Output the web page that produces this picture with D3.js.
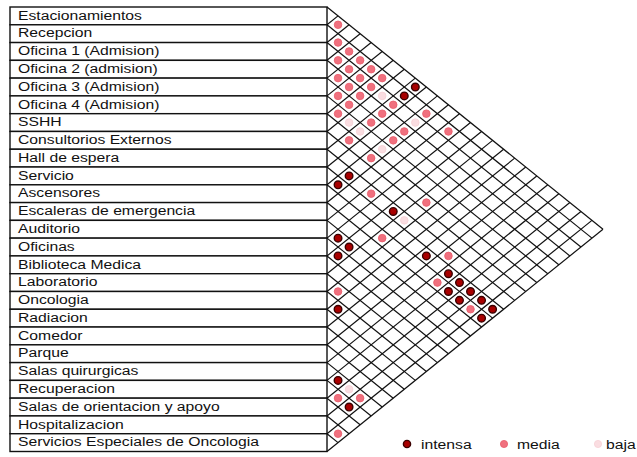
<!DOCTYPE html>
<html><head><meta charset="utf-8">
<script src="https://cdn.jsdelivr.net/npm/d3@7"></script>
<style>body{margin:0;background:#fff}svg{display:block}text{font-family:"Liberation Sans",Arial,sans-serif;fill:#111}</style>
</head><body><svg id="c" width="637" height="457"></svg>
<script>
const spaces = ["Estacionamientos","Recepcion","Oficina 1 (Admision)","Oficina 2 (admision)","Oficina 3 (Admision)","Oficina 4 (Admision)","SSHH","Consultorios Externos","Hall de espera","Servicio","Ascensores","Escaleras de emergencia","Auditorio","Oficinas","Biblioteca Medica","Laboratorio","Oncologia","Radiacion","Comedor","Parque","Salas quirurgicas","Recuperacion","Salas de orientacion y apoyo","Hospitalizacion","Servicios Especiales de Oncologia"];
const intensa = [[0,8],[1,8],[8,10],[9,10],[8,14],[12,13],[12,14],[13,14],[9,18],[9,20],[9,21],[10,21],[9,22],[10,22],[9,23],[9,24],[10,24],[16,17],[20,21],[21,23]];
const media = [[0,1],[1,2],[1,3],[2,3],[1,4],[2,4],[1,5],[3,4],[2,5],[1,6],[3,5],[2,6],[4,5],[3,6],[4,6],[2,8],[5,6],[3,8],[1,10],[4,8],[3,10],[1,12],[6,8],[4,10],[6,10],[8,12],[6,15],[10,15],[8,19],[10,20],[15,16],[10,23],[21,22],[20,23],[23,24]];
const baja = [[2,7],[5,7],[2,10],[5,8],[5,10],[8,15],[20,22]];
const levels = ["intensa","media","baja"];

const svg = d3.select("#c");
const n = spaces.length;
const ys = d3.scaleLinear().domain([0, n]).range([7, 451.5]);
const xs = d3.scaleLinear().domain([0, n]).range([327, 603]);
const color = d3.scaleOrdinal().domain(levels).range(["#a80000","#f0707e","#fadde1"]);
const stroke = d3.scaleOrdinal().domain(levels).range(["#3a0000","#e85a6a","#f6d0d6"]);
const SX = 1.31;

// table rows
const rows = svg.append("g");
rows.selectAll("rect").data(spaces).join("rect")
  .attr("x", 10).attr("y", (d,i)=>ys(i)).attr("width", 327-10).attr("height", (d,i)=>ys(i+1)-ys(i))
  .attr("fill","#fff").attr("stroke","#111").attr("stroke-width",1.4);
rows.selectAll("g.lbl").data(spaces).join("g").attr("class","lbl")
  .attr("transform",(d,i)=>`translate(18,${ys(i)+12.6}) scale(${SX},1)`)
  .append("text").attr("font-size",12).text(d=>d);

// grid
const ks = d3.range(0, n+1);
const grid = svg.append("g").attr("stroke","#111").attr("stroke-width",1.2);
grid.selectAll("line.dn").data(ks).join("line").attr("class","dn")
  .attr("x1", xs(0)).attr("y1", k=>ys(k))
  .attr("x2", k=>xs(n-k)).attr("y2", k=>ys((k+n)/2));
grid.selectAll("line.up").data(ks).join("line").attr("class","up")
  .attr("x1", xs(0)).attr("y1", k=>ys(k))
  .attr("x2", k=>xs(k)).attr("y2", k=>ys(k/2));

// dots
const all = [];
intensa.forEach(p=>all.push({p, lv:"intensa"}));
media.forEach(p=>all.push({p, lv:"media"}));
baja.forEach(p=>all.push({p, lv:"baja"}));
svg.append("g").selectAll("circle").data(all).join("circle")
  .attr("cx", d=>xs(d.p[1]-d.p[0])).attr("cy", d=>ys((d.p[0]+d.p[1]+1)/2))
  .attr("r", 3.8).attr("fill", d=>color(d.lv)).attr("stroke", d=>stroke(d.lv)).attr("stroke-width", d=>d.lv==="intensa"?1.4:0.8);

// legend
const legDot = d3.scaleOrdinal().domain(levels).range([407, 504, 598]);
const legTxt = d3.scaleOrdinal().domain(levels).range([421, 517, 606]);
const leg = svg.append("g").selectAll("g").data(levels).join("g");
leg.append("circle").attr("cx",d=>legDot(d)).attr("cy",444).attr("r",3.6)
  .attr("fill",d=>color(d)).attr("stroke",d=>stroke(d)).attr("stroke-width",d=>d==="intensa"?1.4:0.8);
leg.append("g").attr("transform",d=>`translate(${legTxt(d)},448.5) scale(${SX},1)`).append("text").attr("font-size",12).text(d=>d);
</script></body></html>
